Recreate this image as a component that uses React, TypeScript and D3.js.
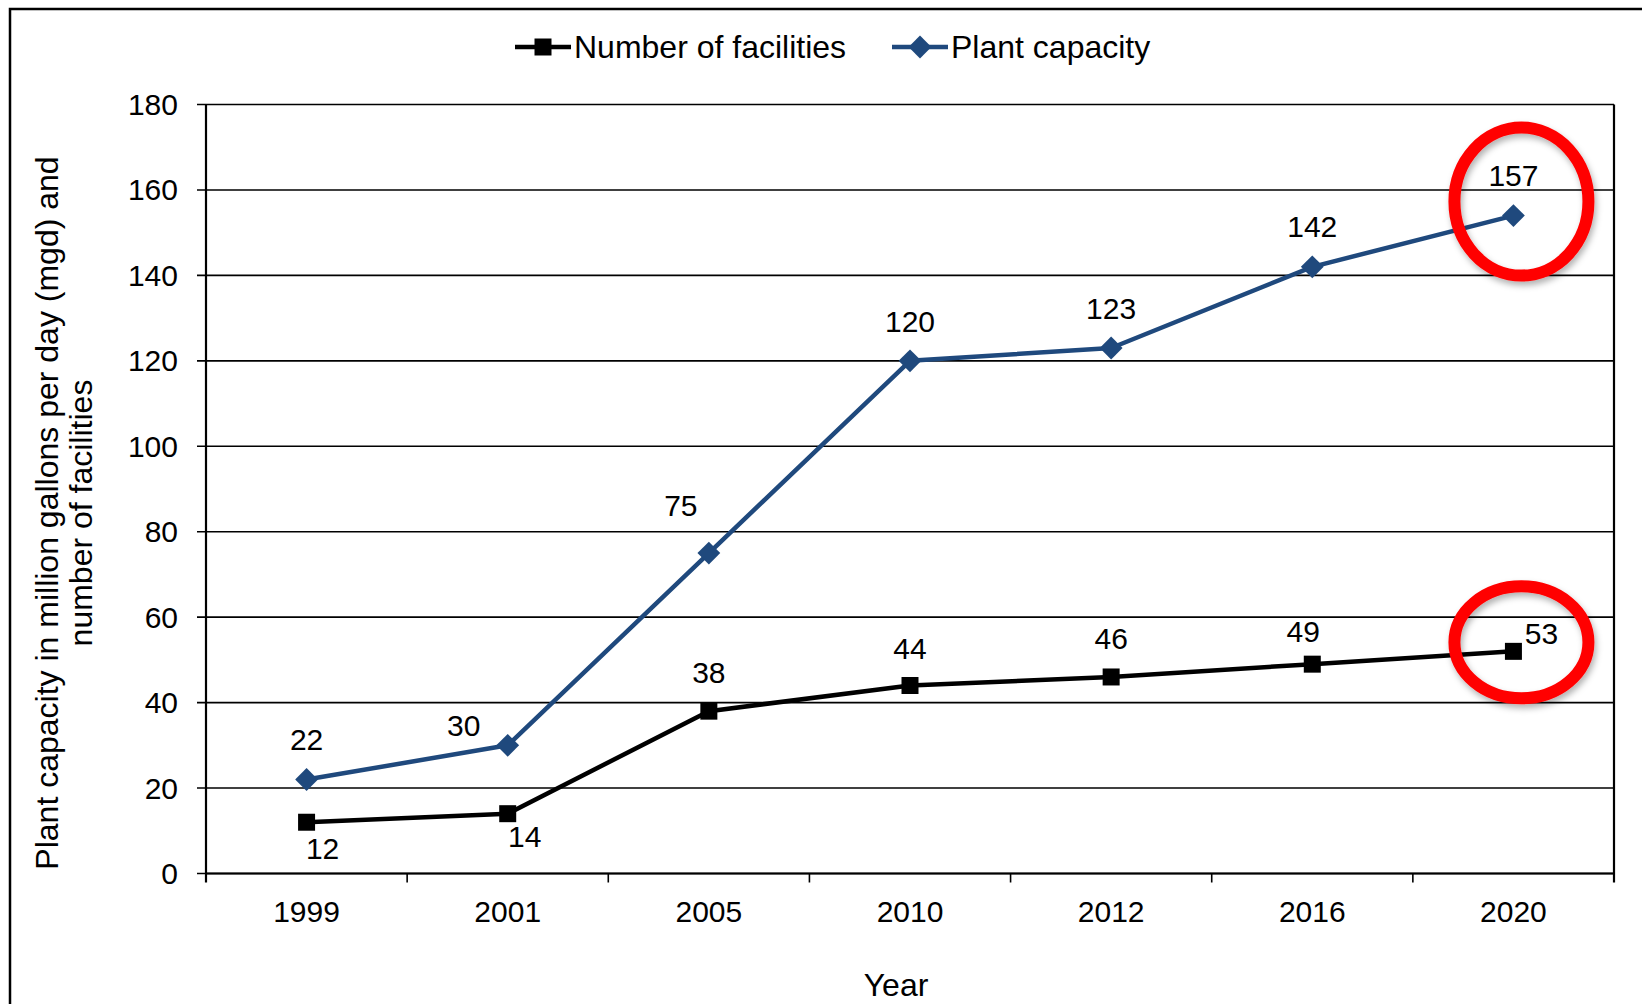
import React, { useEffect, useRef } from 'react';
import * as d3 from 'd3';

const years = ['1999', '2001', '2005', '2010', '2012', '2016', '2020'];
const facilities = [12, 14, 38, 44, 46, 49, 52];
const facilityLabels = ['12', '14', '38', '44', '46', '49', '53'];
const capacity = [22, 30, 75, 120, 123, 142, 154];
const capacityLabels = ['22', '30', '75', '120', '123', '142', '157'];
const yTicks = [0, 20, 40, 60, 80, 100, 120, 140, 160, 180];
const circled = ['2020'];

// label nudges relative to the point (px), roughly like the original
const facNudge = [[16, 26], [17, 23], [0, -39], [0, -37], [0, -38], [-9, -33], [28, -18]];
const capNudge = [[0, -40], [-44, -20], [-28, -48], [0, -39], [0, -40], [0, -40], [0, -40]];

const BLUE = '#1F497D';
const FONT = '"Liberation Sans", Arial, sans-serif';

export default function App() {
  const ref = useRef<SVGSVGElement>(null);

  useEffect(() => {
    const width = 1642;
    const height = 1004;
    const margin = { top: 104.5, left: 206, bottom: 130.5, right: 28 };
    const iwidth = width - margin.left - margin.right;
    const iheight = height - margin.top - margin.bottom;

    const svg = d3.select(ref.current);
    svg.selectAll('*').remove();
    svg.attr('width', width).attr('height', height);

    const defs = svg.append('defs');
    const f = defs.append('filter').attr('id', 'shadow').attr('x', '-20%').attr('y', '-20%').attr('width', '140%').attr('height', '140%');
    f.append('feDropShadow').attr('dx', 2).attr('dy', 4).attr('stdDeviation', 3).attr('flood-color', '#000').attr('flood-opacity', 0.3);

    svg.append('rect').attr('width', width).attr('height', height).attr('fill', '#fff');

    // outer frame (left + top visible)
    svg.append('path').attr('d', `M10,${height + 5} L10,9 L${width + 5},9`)
      .attr('fill', 'none').attr('stroke', '#000').attr('stroke-width', 2.5);

    const g = svg.append('g').attr('transform', `translate(${margin.left},${margin.top})`)
      .style('font-family', FONT).style('font-size', '30px');

    const x = d3.scaleBand().domain(years).range([0, iwidth]).padding(0);
    const y = d3.scaleLinear().domain([0, 180]).range([iheight, 0]);
    const cx = (d: string) => (x(d) as number) + x.bandwidth() / 2;

    // gridlines
    g.append('g').selectAll('line').data(yTicks).enter().append('line')
      .attr('x1', -9).attr('x2', iwidth)
      .attr('y1', d => y(d)).attr('y2', d => y(d))
      .attr('stroke', '#000').attr('stroke-width', 1.6);

    // y labels
    g.append('g').selectAll('text').data(yTicks).enter().append('text')
      .attr('x', -28).attr('y', d => y(d)).attr('dy', '0.35em')
      .attr('text-anchor', 'end').text(d => d);

    // y axis + right border
    g.append('line').attr('x1', 0).attr('x2', 0).attr('y1', 0).attr('y2', iheight + 9)
      .attr('stroke', '#000').attr('stroke-width', 2.2);
    g.append('line').attr('x1', iwidth).attr('x2', iwidth).attr('y1', 0).attr('y2', iheight + 9)
      .attr('stroke', '#000').attr('stroke-width', 2.2);
    g.append('line').attr('x1', 0).attr('x2', iwidth).attr('y1', iheight).attr('y2', iheight)
      .attr('stroke', '#000').attr('stroke-width', 2.2);

    // x ticks between categories
    g.append('g').selectAll('line').data(years.slice(1)).enter().append('line')
      .attr('x1', d => x(d) as number).attr('x2', d => x(d) as number)
      .attr('y1', iheight).attr('y2', iheight + 9)
      .attr('stroke', '#000').attr('stroke-width', 1.6);

    g.append('g').selectAll('text').data(years).enter().append('text')
      .attr('x', d => cx(d)).attr('y', iheight + 48)
      .attr('text-anchor', 'middle').text(d => d);

    // axis titles
    g.append('text').attr('x', 896 - margin.left).attr('y', iheight + 122)
      .attr('text-anchor', 'middle').style('font-size', '32px').text('Year');
    const yt = g.append('text').attr('text-anchor', 'middle').style('font-size', '32px')
      .attr('transform', `translate(${47 - margin.left},${513 - margin.top}) rotate(-90)`);
    yt.append('tspan').attr('x', 0).attr('dy', '0.35em').text('Plant capacity in million gallons per day (mgd) and');
    yt.append('tspan').attr('x', 0).attr('dy', 34).text('number of facilities');

    // lines
    const line = d3.line<number>().x((d, i) => cx(years[i])).y(d => y(d));
    g.append('path').datum(capacity).attr('d', line).attr('fill', 'none')
      .attr('stroke', BLUE).attr('stroke-width', 4.5).attr('stroke-linejoin', 'round');
    g.append('path').datum(facilities).attr('d', line).attr('fill', 'none')
      .attr('stroke', '#000').attr('stroke-width', 4.5).attr('stroke-linejoin', 'round');

    const diamond = d3.symbol().type(d3.symbolSquare).size(260);
    g.append('g').selectAll('path').data(capacity).enter().append('path')
      .attr('d', diamond)
      .attr('transform', (d, i) => `translate(${cx(years[i])},${y(d)}) rotate(45)`)
      .attr('fill', BLUE);
    const square = d3.symbol().type(d3.symbolSquare).size(289);
    g.append('g').selectAll('path').data(facilities).enter().append('path')
      .attr('d', square)
      .attr('transform', (d, i) => `translate(${cx(years[i])},${y(d)})`)
      .attr('fill', '#000');

    // data labels
    g.append('g').selectAll('text').data(capacity).enter().append('text')
      .attr('x', (d, i) => cx(years[i]) + capNudge[i][0])
      .attr('y', (d, i) => y(d) + capNudge[i][1]).attr('dy', '0.35em')
      .attr('text-anchor', 'middle').text((d, i) => capacityLabels[i]);
    g.append('g').selectAll('text').data(facilities).enter().append('text')
      .attr('x', (d, i) => cx(years[i]) + facNudge[i][0])
      .attr('y', (d, i) => y(d) + facNudge[i][1]).attr('dy', '0.35em')
      .attr('text-anchor', 'middle').text((d, i) => facilityLabels[i]);

    // red highlight ellipses
    circled.forEach(yr => {
      const i = years.indexOf(yr);
      g.append('ellipse').attr('cx', cx(yr) + 8).attr('cy', y(capacity[i]) - 14)
        .attr('rx', 67).attr('ry', 74)
        .attr('fill', 'none').attr('stroke', '#FF0000').attr('stroke-width', 12)
        .attr('filter', 'url(#shadow)');
      g.append('ellipse').attr('cx', cx(yr) + 8).attr('cy', y(facilities[i]) - 9)
        .attr('rx', 67).attr('ry', 56)
        .attr('fill', 'none').attr('stroke', '#FF0000').attr('stroke-width', 12)
        .attr('filter', 'url(#shadow)');
    });

    // legend
    const legend = svg.append('g').style('font-family', FONT).style('font-size', '32px');
    const items = [
      { name: 'Number of facilities', color: '#000', x0: 515, shape: 'square' },
      { name: 'Plant capacity', color: BLUE, x0: 892, shape: 'diamond' },
    ];
    items.forEach(it => {
      legend.append('line').attr('x1', it.x0).attr('x2', it.x0 + 56).attr('y1', 47).attr('y2', 47)
        .attr('stroke', it.color).attr('stroke-width', 4.5);
      legend.append('path')
        .attr('d', it.shape === 'square' ? square : diamond)
        .attr('transform', `translate(${it.x0 + 28},47)${it.shape === 'diamond' ? ' rotate(45)' : ''}`)
        .attr('fill', it.color);
      legend.append('text').attr('x', it.x0 + 59).attr('y', 47).attr('dy', '0.35em').text(it.name);
    });
  }, []);

  return (
    <div style={{ position: 'absolute', left: 0, top: 0 }}>
      <svg ref={ref} style={{ display: 'block' }}></svg>
    </div>
  );
}
